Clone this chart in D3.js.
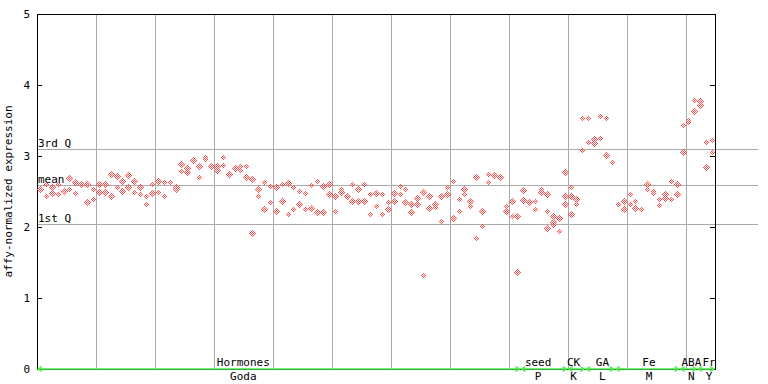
<!DOCTYPE html>
<html>
<head>
<meta charset="utf-8">
<script src="https://cdn.jsdelivr.net/npm/d3@7"></script>
<style>
  body { margin: 0; background: #fff; }
  text { font-family: "DejaVu Sans Mono", monospace; font-size: 11px; fill: #000; }
</style>
</head>
<body>
<div id="chart"></div>
<script>
// number of samples along the x axis
const sampleCount = 115;

// expression values per sample (replicates)
const expression = [
  [2.53, 2.516], [2.61, 2.43], [2.56, 2.48], [2.60, 2.46], [2.52, 2.506],
  [2.69, 2.54], [2.63, 2.48], [2.62, 2.60], [2.61, 2.35], [2.53, 2.40],
  [2.60, 2.49], [2.60, 2.49], [2.74, 2.43], [2.72, 2.56], [2.65, 2.51],
  [2.73, 2.56], [2.65, 2.49], [2.56, 2.47], [2.43, 2.33], [2.60, 2.48],
  [2.65, 2.50], [2.63, 2.44], [2.64], [2.56, 2.53], [2.89, 2.79],
  [2.83, 2.77], [2.95], [2.86, 2.71], [2.99, 2.96], [2.87, 2.856],
  [2.86, 2.80], [2.98, 2.88], [2.75, 2.736], [2.85, 2.836], [2.86, 2.80],
  [2.86, 2.70], [2.67, 1.92], [2.53, 2.44], [2.63, 2.25], [2.58, 2.35],
  [2.56, 2.22], [2.60, 2.37], [2.62, 2.19], [2.57, 2.26], [2.51, 2.32],
  [2.48, 2.26], [2.59, 2.27], [2.65, 2.21], [2.58, 2.21], [2.61, 2.47],
  [2.44, 2.22], [2.53, 2.49], [2.45, 2.436], [2.60, 2.37], [2.54, 2.37],
  [2.61, 2.37], [2.47, 2.18], [2.48, 2.29], [2.46, 2.19], [2.35, 2.26],
  [2.48, 2.36], [2.58, 2.46], [2.53, 2.35], [2.33, 2.21], [2.41, 2.33],
  [2.50, 1.32], [2.44, 2.27], [2.32, 2.28], [2.44, 2.09], [2.56, 2.46],
  [2.65, 2.13], [2.40, 2.22], [2.54, 2.47], [2.37, 2.29], [2.70, 1.84],
  [2.23, 2.02], [2.75, 2.64], [2.73, 2.716], [2.70], [2.29, 2.22],
  [2.36, 2.15], [2.15, 1.36], [2.52, 2.38], [2.35, 2.336], [2.37, 2.25],
  [2.53, 2.49], [2.46, 2.22, 1.98], [2.16, 2.07, 2.03], [2.13, 2.116, 1.94], [2.78, 2.43, 2.33],
  [2.57, 2.43, 2.18], [2.39, 2.376, 2.33], [3.53, 3.09], [3.53, 3.20], [3.24, 3.19],
  [3.57, 3.26], [3.54, 3.02], [2.91], [2.33], [2.36, 2.26],
  [2.46, 2.32], [2.36, 2.27], [2.25], [2.60, 2.54], [2.51, 2.48],
  [2.39, 2.31], [2.46, 2.41], [2.65, 2.39], [2.60, 2.47], [3.43, 3.05],
  [3.51, 3.48], [3.79, 3.64], [3.77, 3.756, 3.725], [3.20, 2.84], [3.23, 3.06]
];

const yTicks = [0, 1, 2, 3, 4, 5];

const refNames = ['3rd Q', 'mean', '1st Q'];
const refValues = [3.10, 2.59, 2.04];

// experiment groups: name above the axis, series below, sample range, label sample
const groupNames = ['Hormones', 'seed', 'CK', 'GA', 'Fe', 'ABA', 'Fr'];
const groupSeries = ['Goda', 'P', 'K', 'L', 'M', 'N', 'Y'];
const groupStart = [0, 82, 90, 93, 98, 109, 112];
const groupEnd = [82, 90, 93, 98, 109, 112, 115];
const groupLabelAt = [35, 85, 91, 95.9, 103.8, 111, 114];

const width = 768, height = 384;
const margin = {top: 14, right: 53, bottom: 15, left: 37};
const plotW = width - margin.left - margin.right;
const plotH = height - margin.top - margin.bottom;

const svg = d3.select('#chart').append('svg')
  .attr('width', width)
  .attr('height', height);

const x = d3.scaleLinear().domain([0, sampleCount]).range([margin.left, margin.left + plotW]);
const y = d3.scaleLinear().domain([0, 5]).range([margin.top + plotH, margin.top]);

// checker fill used by the diamonds
const defs = svg.append('defs');
const pat = defs.append('pattern')
  .attr('id', 'checker')
  .attr('patternUnits', 'userSpaceOnUse')
  .attr('width', 2).attr('height', 2);
pat.append('rect').attr('x', 0).attr('y', 0).attr('width', 1).attr('height', 1).attr('fill', '#ff5050');
pat.append('rect').attr('x', 1).attr('y', 1).attr('width', 1).attr('height', 1).attr('fill', '#ff5050');

// vertical grid every 10 samples
const grid = svg.append('g').attr('shape-rendering', 'crispEdges');
grid.selectAll('line.vgrid')
  .data(d3.range(10, sampleCount, 10))
  .join('line')
  .attr('class', 'vgrid')
  .attr('x1', d => Math.round(x(d)) + 0.5).attr('x2', d => Math.round(x(d)) + 0.5)
  .attr('y1', y(5)).attr('y2', y(0))
  .attr('stroke', '#aaaaaa');

// quartile / mean reference lines
grid.selectAll('line.ref')
  .data(refValues)
  .join('line')
  .attr('class', 'ref')
  .attr('x1', margin.left).attr('x2', width - 10)
  .attr('y1', d => Math.round(y(d)) + 0.5).attr('y2', d => Math.round(y(d)) + 0.5)
  .attr('stroke', '#aaaaaa');

svg.selectAll('text.ref')
  .data(refValues)
  .join('text')
  .attr('class', 'ref')
  .attr('x', margin.left + 1)
  .attr('y', d => Math.round(y(d)) - 2)
  .text((d, i) => refNames[i]);

// axes
const yAxis = d3.axisLeft(y).tickValues(yTicks).tickSize(-5).tickPadding(7).tickFormat(d3.format('d'));
const yAxisG = svg.append('g')
  .attr('transform', `translate(${margin.left},0)`)
  .attr('shape-rendering', 'crispEdges')
  .call(yAxis);
yAxisG.select('.domain').attr('stroke', '#000');
yAxisG.selectAll('text').style('font-size', '11px').attr('fill', '#000');

const rAxis = d3.axisRight(y).tickValues(yTicks).tickSize(-5).tickFormat('');
svg.append('g')
  .attr('transform', `translate(${margin.left + plotW},0)`)
  .attr('shape-rendering', 'crispEdges')
  .call(rAxis);

svg.append('line')
  .attr('x1', margin.left).attr('x2', margin.left + plotW)
  .attr('y1', y(5) + 0.5).attr('y2', y(5) + 0.5)
  .attr('stroke', '#000').attr('shape-rendering', 'crispEdges');
svg.append('line')
  .attr('x1', margin.left).attr('x2', margin.left + plotW)
  .attr('y1', y(0) + 0.5).attr('y2', y(0) + 0.5)
  .attr('stroke', '#000').attr('shape-rendering', 'crispEdges');

svg.append('text')
  .attr('transform', `translate(12,${(y(0) + y(5)) / 2}) rotate(-90)`)
  .attr('text-anchor', 'middle')
  .text('affy-normalized expression');

// points
const points = [];
expression.forEach((vals, i) => vals.forEach(v => points.push({i, v})));

svg.append('g').selectAll('path.pt')
  .data(points)
  .join('path')
  .attr('class', 'pt')
  .attr('shape-rendering', 'crispEdges')
  .attr('fill', 'url(#checker)')
  .attr('d', d => {
    const cx = Math.round(x(d.i + 0.5)) + 0.5;
    const cy = Math.round(y(d.v)) + 0.5;
    return `M${cx},${cy - 3.6}L${cx + 3.6},${cy}L${cx},${cy + 3.6}L${cx - 3.6},${cy}Z`;
  });

// group arrows along the bottom
const gy = y(0);
const arrows = svg.append('g');
groupNames.forEach((name, k) => {
  const x1 = x(groupStart[k]) + 1, x2 = x(groupEnd[k]) - 1;
  arrows.append('path')
    .attr('fill', 'none')
    .attr('stroke', '#44ee44')
    .attr('stroke-width', 1.4)
    .attr('d', `M${x1},${gy}L${x2},${gy}M${x1 + 4},${gy - 2.5}L${x1},${gy}L${x1 + 4},${gy + 2.5}M${x2 - 4},${gy - 2.5}L${x2},${gy}L${x2 - 4},${gy + 2.5}`);
  const cx = x(groupLabelAt[k]);
  arrows.append('text')
    .attr('x', cx).attr('y', gy - 3)
    .attr('text-anchor', 'middle')
    .text(name);
  arrows.append('text')
    .attr('x', cx).attr('y', gy + 11)
    .attr('text-anchor', 'middle')
    .text(groupSeries[k]);
});
</script>
</body>
</html>
